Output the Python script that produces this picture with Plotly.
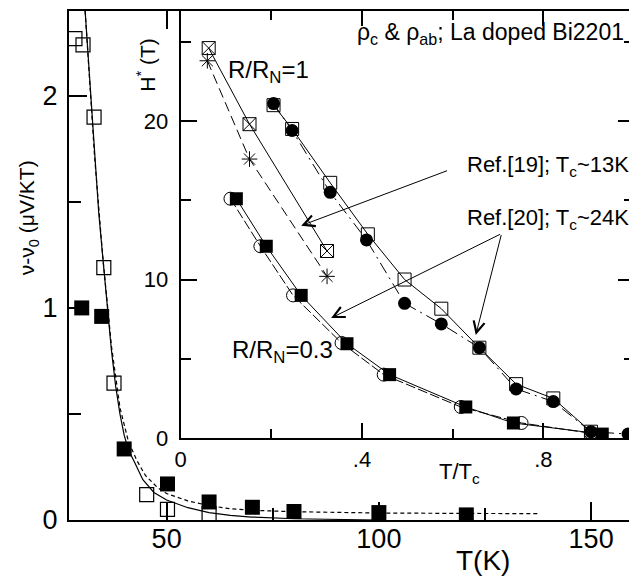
import plotly.graph_objects as go

# ---------------- main panel data ----------------
T_open = [28.4, 30.3, 32.9, 35.2, 37.6, 45.3, 50.2, 60.0]
nu_open = [2.27, 2.24, 1.90, 1.19, 0.645, 0.12, 0.05, 0.03]

T_filled = [30.0, 34.7, 40.0, 50.2, 60.0, 70.2, 80.0, 100.0, 120.6]
nu_filled = [1.00, 0.96, 0.335, 0.17, 0.085, 0.06, 0.04, 0.035, 0.024]

T_fit_solid = [30.8, 32, 33, 34, 35, 36, 37, 38, 39, 40, 41, 42.5, 44.4, 47, 50, 55, 60, 65, 70, 80, 90, 100]
nu_fit_solid = [2.4, 2.05, 1.72, 1.45, 1.23, 1.0, 0.8, 0.63, 0.5, 0.4, 0.33, 0.27, 0.19, 0.13,
                0.094, 0.058, 0.035, 0.022, 0.014, 0.006, 0.002, 0.0]

T_fit_dash = [30.8, 33, 35, 37, 39, 41, 43, 45, 48, 50, 55, 60, 65, 70, 80, 90, 100, 120, 138]
nu_fit_dash = [2.4, 1.72, 1.23, 0.82, 0.53, 0.37, 0.28, 0.21, 0.15, 0.125, 0.09, 0.068, 0.053,
               0.046, 0.039, 0.035, 0.033, 0.031, 0.03]

main_xticks = [50, 100, 150]
main_yticks = [0, 1, 2]

# ---------------- inset data ----------------
t19_xsq = [0.062, 0.152, 0.323]
H19_xsq = [24.6, 19.8, 11.8]
t19_star = [0.059, 0.152, 0.323]
H19_star = [23.8, 17.6, 10.2]

t20_sq = [0.205, 0.246, 0.330, 0.413, 0.494, 0.575, 0.659, 0.740, 0.822, 0.905]
H20_sq = [21.0, 19.5, 16.1, 12.85, 10.0, 8.16, 5.7, 3.4, 2.5, 0.4]
t20_circ = [0.205, 0.246, 0.330, 0.410, 0.494, 0.575, 0.659, 0.740, 0.822, 0.905, 0.987]
H20_circ = [21.1, 19.4, 15.5, 12.5, 8.5, 7.2, 5.7, 3.1, 2.3, 0.4, 0.25]

t03_sq = [0.123, 0.189, 0.266, 0.367, 0.461, 0.629, 0.734, 0.930]
H03_sq = [15.1, 12.1, 9.0, 5.95, 4.0, 1.96, 0.95, 0.25]
t03_circ = [0.110, 0.176, 0.248, 0.355, 0.448, 0.618, 0.752, 0.905]
H03_circ = [15.1, 12.1, 9.0, 6.0, 4.0, 1.96, 0.95, 0.3]

inset_xtickvals = [0, 0.4, 0.8]
inset_xticktext = ["0", ".4", ".8"]
inset_yticks = [0, 10, 20]

FONT = "Liberation Sans, Arial, sans-serif"
BLK = "black"

fig = go.Figure()

# main panel
fig.add_trace(go.Scatter(x=T_fit_solid, y=nu_fit_solid, mode="lines",
                         line=dict(color=BLK, width=1.2), xaxis="x", yaxis="y"))
fig.add_trace(go.Scatter(x=T_fit_dash, y=nu_fit_dash, mode="lines",
                         line=dict(color=BLK, width=1.2, dash="4px,3px"), xaxis="x", yaxis="y"))
fig.add_trace(go.Scatter(x=T_open, y=nu_open, mode="markers",
                         marker=dict(symbol="square-open", size=14, color=BLK, line=dict(width=1.2)),
                         xaxis="x", yaxis="y"))
fig.add_trace(go.Scatter(x=T_filled, y=nu_filled, mode="markers",
                         marker=dict(symbol="square", size=15, color=BLK),
                         xaxis="x", yaxis="y"))

# inset lines
inset_lines = [
    (t19_xsq, H19_xsq, "solid"),
    (t19_star, H19_star, "10px,5px"),
    (t20_sq, H20_sq, "solid"),
    (t20_circ, H20_circ, "12px,5px,2px,5px"),
    (t03_circ, H03_circ, "10px,3px"),
    (t03_sq, H03_sq, "solid"),
]
for xs, ys, d in inset_lines:
    fig.add_trace(go.Scatter(x=xs, y=ys, mode="lines", line=dict(color=BLK, width=1, dash=d),
                             xaxis="x2", yaxis="y2"))

# inset markers
fig.add_trace(go.Scatter(x=t19_xsq, y=H19_xsq, mode="markers",
                         marker=dict(symbol="square-x-open", size=13, color=BLK, line=dict(width=1)),
                         xaxis="x2", yaxis="y2"))
fig.add_trace(go.Scatter(x=t19_star, y=H19_star, mode="markers",
                         marker=dict(symbol="asterisk-open", size=13, color=BLK, line=dict(width=1)),
                         xaxis="x2", yaxis="y2"))
fig.add_trace(go.Scatter(x=t20_sq, y=H20_sq, mode="markers",
                         marker=dict(symbol="square-open", size=13, color=BLK, line=dict(width=1)),
                         xaxis="x2", yaxis="y2"))
fig.add_trace(go.Scatter(x=t20_circ, y=H20_circ, mode="markers",
                         marker=dict(symbol="circle", size=13, color=BLK),
                         xaxis="x2", yaxis="y2"))
fig.add_trace(go.Scatter(x=t03_circ, y=H03_circ, mode="markers",
                         marker=dict(symbol="circle-open", size=13, color=BLK, line=dict(width=1)),
                         xaxis="x2", yaxis="y2"))
fig.add_trace(go.Scatter(x=t03_sq, y=H03_sq, mode="markers",
                         marker=dict(symbol="square", size=13, color=BLK),
                         xaxis="x2", yaxis="y2"))

axis_common = dict(showgrid=False, zeroline=False, showline=True, linecolor=BLK, linewidth=2,
                   mirror="ticks", ticks="inside", tickcolor=BLK, tickwidth=1.5)

# page body has an 8px margin: figure is placed at (8, 8) in the window
fig.update_layout(
    width=629, height=570,
    margin=dict(l=61, r=1, t=3, b=58),
    paper_bgcolor="white", plot_bgcolor="white",
    showlegend=False,
    font=dict(family=FONT, color=BLK),
    xaxis=dict(axis_common, domain=[0, 1], anchor="y", range=[27, 160.1],
               tickmode="array", tickvals=main_xticks, ticklen=18,
               tickfont=dict(size=27), ticklabelstandoff=-6,
               minor=dict(tickmode="array", tickvals=[75, 125], ticks="inside", ticklen=12,
                          tickwidth=1.5, tickcolor=BLK)),
    yaxis=dict(axis_common, domain=[0, 1], anchor="x", range=[0, 2.40],
               tickmode="array", tickvals=main_yticks, ticklen=18,
               tickfont=dict(size=27), ticklabelstandoff=4,
               minor=dict(tickmode="array", tickvals=[0.5, 1.5], ticks="inside", ticklen=12,
                          tickwidth=1.5, tickcolor=BLK)),
    xaxis2=dict(axis_common, domain=[0.1975, 1], anchor="y2", range=[0, 1.0],
                tickmode="array", tickvals=inset_xtickvals, ticktext=inset_xticktext, ticklen=15,
                tickfont=dict(size=22), ticklabelstandoff=1,
                minor=dict(tickmode="array", tickvals=[0.2, 0.6], ticks="inside", ticklen=9,
                           tickwidth=1.5, tickcolor=BLK)),
    yaxis2=dict(axis_common, domain=[0.161, 1], anchor="x2", range=[0, 26.94],
                tickmode="array", tickvals=inset_yticks, ticklen=16,
                tickfont=dict(size=22), ticklabelstandoff=6,
                minor=dict(tickmode="array", tickvals=[5, 15, 25], ticks="inside", ticklen=10,
                           tickwidth=1.5, tickcolor=BLK)),
)

def px2paper(px, py):
    return (px - 69) / 567.0, (520 - py) / 509.0

annos = []
def text_at(px, py, txt, size, xanchor="center", angle=0):
    x, y = px2paper(px, py)
    annos.append(dict(x=x, y=y, xref="paper", yref="paper", text=txt, showarrow=False,
                      xanchor=xanchor, yanchor="middle", textangle=angle,
                      font=dict(size=size, family=FONT, color=BLK)))

text_at(484, 560, "T(K)", 28)
text_at(28, 218, "ν-ν<sub>0</sub> (μV/KT)", 21, angle=-90)
text_at(461, 473, "T/T<sub>c</sub>", 22)
text_at(146, 65, "H<sup>*</sup> (T)", 21, angle=-90)
text_at(628, 33, "ρ<sub>c</sub> &amp; ρ<sub>ab</sub>; La doped Bi2201", 23, xanchor="right")
text_at(227, 71, "R/R<sub>N</sub>=1", 24, xanchor="left")
text_at(231, 351, "R/R<sub>N</sub>=0.3", 24, xanchor="left")
text_at(633, 166, "Ref.[19]; T<sub>c</sub>~13K", 22, xanchor="right")
text_at(633, 219, "Ref.[20]; T<sub>c</sub>~24K", 22, xanchor="right")

# arrows (inset data coordinates)
arrows = [
    ((0.266, 13.4), (0.591, 16.9)),
    ((0.332, 7.57), (0.708, 12.9)),
    ((0.651, 6.5), (0.708, 12.9)),
]
for (hx, hy), (tx, ty) in arrows:
    annos.append(dict(x=hx, y=hy, xref="x2", yref="y2", ax=tx, ay=ty, axref="x2", ayref="y2",
                      text="", showarrow=True, arrowhead=5, arrowsize=2.2, arrowwidth=1,
                      arrowcolor=BLK))

fig.update_layout(annotations=annos)
fig.write_html("out.html")
